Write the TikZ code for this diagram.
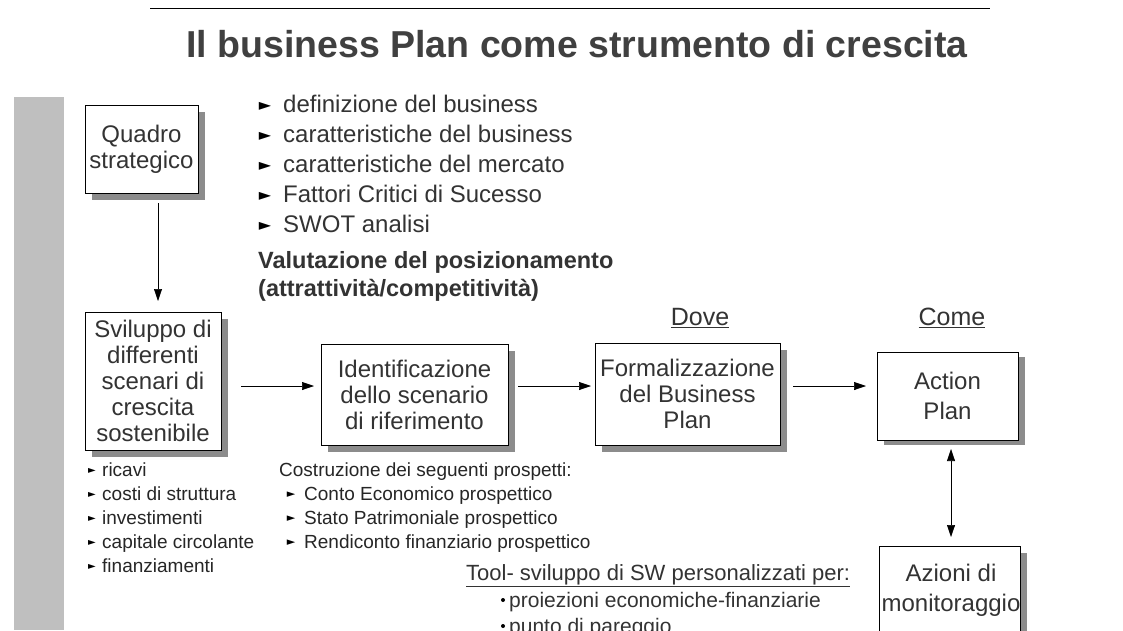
\documentclass[tikz,border=0pt]{standalone}
\usepackage{fontspec}
\setmainfont{Liberation Sans}
\newfontfamily\dv{DejaVu Sans}
\begin{document}
\begin{tikzpicture}[x=1pt,y=-1pt,
 bx/.style={draw,fill=white,line width=0.8pt,inner sep=0pt,align=center,font=\fontsize{24}{26}\selectfont,text=black!80},
 arr/.style={-{Triangle[length=12pt,width=8pt]},line width=0.6pt},
 big/.style={anchor=west,font=\fontsize{24}{24}\selectfont,text=black!80,inner sep=0pt,text height=17pt,text depth=5pt},
 sm/.style={anchor=west,font=\fontsize{19}{20}\selectfont,text=black!85,inner sep=0pt,text height=14pt,text depth=4pt},
 tri/.style={anchor=center,inner sep=0pt,font=\dv\fontsize{#1}{#1}\selectfont}]
\usetikzlibrary{arrows.meta}
\useasboundingbox[fill=white] (0,0) rectangle (1123,630);
\fill[black!25] (14,97) rectangle (64,630);
\draw[line width=0.6pt] (150,8) -- (990,8);
\node[font=\bfseries\fontsize{37.5}{40}\selectfont,text=black!75] (title) at (577,44) {Il business Plan come strumento di crescita};
% shadows
\foreach \a/\b/\c/\d in {85/105/198/193,85/312/221/450,321/344/508/445,595/343/780/445,877/350/1018/438,879/546/1020/640}
  \fill[black!45] (\a+7,\b+7) rectangle (\c+7,\d+7);
\node[bx,minimum width=113pt,minimum height=88pt] (q) at (141.5,149) {Quadro\\strategico};
\node[bx,minimum width=136pt,minimum height=138pt] (s) at (153,381) {Sviluppo di\\differenti\\scenari di\\crescita\\sostenibile};
\node[bx,minimum width=187pt,minimum height=101pt] (i) at (414.5,394.5) {Identificazione\\dello scenario\\di riferimento};
\node[bx,minimum width=185pt,minimum height=102pt] (f) at (687.5,394) {Formalizzazione\\del Business\\Plan};
\node[bx,minimum width=141pt,minimum height=88pt,font=\fontsize{24}{30}\selectfont] (a) at (947.5,396) {Action\\Plan};
\node[bx,minimum width=141pt,minimum height=94pt,anchor=north] (m) at (949.5,546) {};
\node[font=\fontsize{24}{30}\selectfont,text=black!80,align=center] (mt) at (951,590) {Azioni di\\monitoraggio};
\coordinate (q1) at (158,203); \coordinate (q2) at (158,301);
\draw[arr] (q1) -- (q2);
\coordinate (h1) at (241,386); \coordinate (h2) at (314,386);
\draw[arr] (h1) -- (h2);
\coordinate (h3) at (518,386); \coordinate (h4) at (591,386);
\draw[arr] (h3) -- (h4);
\coordinate (h5) at (793,386); \coordinate (h6) at (866,386);
\draw[arr] (h5) -- (h6);
\coordinate (v1) at (951,449); \coordinate (v2) at (951,537);
\draw[{Triangle[length=12pt,width=8pt]}-{Triangle[length=12pt,width=8pt]},line width=0.6pt] (v1) -- (v2);
% top list
\foreach \t [count=\k] in {definizione del business,caratteristiche del business,caratteristiche del mercato,Fattori Critici di Sucesso,SWOT analisi}{
  \node[tri=16] (bt\k) at (265,106+30*\k-30) {►};
  \node[big] (lt\k) at (283,106+30*\k-30) {\t};}
\node[anchor=west,inner sep=0pt,font=\bfseries\fontsize{23.5}{28}\selectfont,text=black!80,align=left] (val) at (258,276) {Valutazione del posizionamento\\(attrattività/competitività)};
\node[font=\fontsize{25}{26}\selectfont,text=black!80] (dove) at (700,318) {\underline{Dove}};
\node[font=\fontsize{25}{26}\selectfont,text=black!80] (come) at (952,318) {\underline{Come}};
\foreach \t [count=\k] in {ricavi,costi di struttura,investimenti,capitale circolante,finanziamenti}{
  \node[tri=10] (bs\k) at (92,471+24*\k-24) {►};
  \node[sm] (ls\k) at (102,471+24*\k-24) {\t};}
\node[sm] (cos) at (279,471) {Costruzione dei seguenti prospetti:};
\foreach \t [count=\k] in {Conto Economico prospettico,Stato Patrimoniale prospettico,Rendiconto finanziario prospettico}{
  \node[tri=11] (bc\k) at (291,495+24*\k-24) {►};
  \node[sm] (lc\k) at (304,495+24*\k-24) {\t};}
\node[anchor=west,inner sep=0pt,font=\fontsize{22}{22}\selectfont,text=black!80] (tool) at (466,576) {\underline{Tool- sviluppo di SW personalizzati per:}};
\foreach \t [count=\k] in {proiezioni economiche-finanziarie,punto di pareggio}{
  \fill (503,600+26*\k-26) circle (2pt);
  \node[anchor=west,inner sep=0pt,font=\fontsize{21}{22}\selectfont,text=black!80,text height=15pt,text depth=5pt] (lp\k) at (509,602+26*\k-26) {\t};}
\end{tikzpicture}
\end{document}
